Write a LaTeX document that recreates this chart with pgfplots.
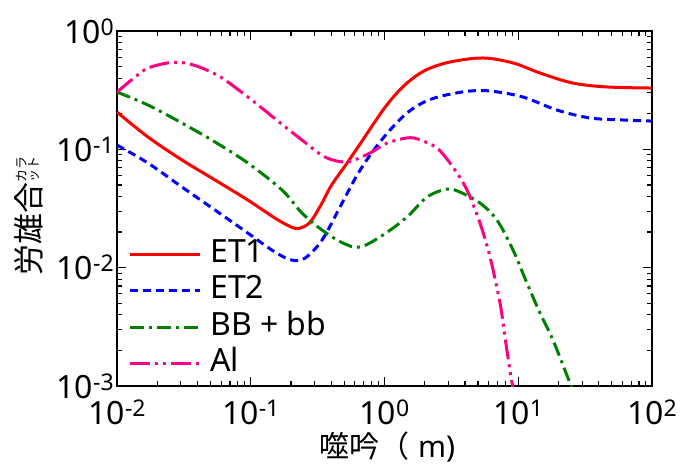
\documentclass[border=0pt]{standalone}
\usepackage{pgfplots}
\pgfplotsset{compat=1.18}
\usepackage{pgfplotstable}
\usepackage{fontspec}
\setmainfont{Noto Sans}
\newfontfamily\cjk{Noto Sans CJK JP}
\definecolor{cET}{RGB}{255,0,0}
\definecolor{cETt}{RGB}{0,0,255}
\definecolor{cBB}{RGB}{0,128,0}
\definecolor{cAl}{RGB}{255,0,128}
\newcommand{\tl}[1]{10\raisebox{8bp}{\fontsize{23bp}{23bp}\selectfont #1}}

% columns: log10(x)  log10(y)
\pgfplotstableread{
lx ly
-2.000 -0.685
-1.768 -0.896
-1.514 -1.090
-1.267 -1.259
-1.021 -1.429
-0.819 -1.581
-0.700 -1.655
-0.640 -1.668
-0.560 -1.620
-0.480 -1.480
-0.400 -1.310
-0.295 -1.140
-0.183 -0.955
-0.011 -0.668
0.100 -0.515
0.200 -0.410
0.318 -0.325
0.490 -0.262
0.736 -0.228
0.961 -0.270
1.163 -0.355
1.409 -0.440
1.664 -0.473
2.000 -0.482
}\etone
\pgfplotstableread{
lx ly
-2.000 -0.964
-1.768 -1.116
-1.514 -1.319
-1.267 -1.513
-1.021 -1.708
-0.819 -1.868
-0.692 -1.936
-0.594 -1.919
-0.467 -1.767
-0.333 -1.488
-0.206 -1.220
-0.086 -1.015
0.041 -0.837
0.168 -0.693
0.288 -0.605
0.415 -0.553
0.617 -0.510
0.789 -0.507
1.036 -0.558
1.290 -0.668
1.537 -0.735
1.783 -0.752
2.000 -0.761
}\ettwo
\pgfplotstableread{
lx ly
-2.000 -0.516
-1.768 -0.626
-1.514 -0.778
-1.267 -0.938
-1.021 -1.116
-0.766 -1.344
-0.617 -1.538
-0.467 -1.682
-0.310 -1.792
-0.183 -1.826
-0.011 -1.724
0.168 -1.572
0.318 -1.403
0.467 -1.336
0.564 -1.361
0.714 -1.454
0.841 -1.598
0.961 -1.851
1.065 -2.130
1.163 -2.384
1.260 -2.612
1.387 -2.976
1.420 -3.060
}\bbdata
\pgfplotstableread{
lx ly
-2.000 -0.516
-1.865 -0.389
-1.768 -0.313
-1.619 -0.270
-1.492 -0.270
-1.364 -0.313
-1.215 -0.397
-1.021 -0.558
-0.796 -0.761
-0.617 -0.921
-0.445 -1.065
-0.280 -1.107
-0.108 -1.031
0.019 -0.947
0.168 -0.904
0.250 -0.913
0.393 -0.989
0.512 -1.150
0.617 -1.344
0.714 -1.623
0.789 -1.910
0.864 -2.299
0.901 -2.587
0.938 -2.866
0.970 -3.080
}\aldata

\begin{document}
\begin{tikzpicture}
\begin{axis}[
  xmode=log, ymode=log,
  scale only axis, width=535bp, height=355bp,
  xmin=1e-2, xmax=1e2, ymin=1e-3, ymax=1,
  xtick={1e-2,1e-1,1,1e1,1e2},
  xticklabels={\tl{-2},\tl{-1},\tl{0},\tl{1},\tl{2}},
  ytick={1e-3,1e-2,1e-1,1},
  yticklabels={\tl{-3},\tl{-2},\tl{-1},\tl{0}},
  tick align=inside,
  major tick length=9bp, minor tick length=5bp,
  axis line style={line width=1.6bp},
  every tick/.style={black, line width=1.1bp},
  tick label style={font=\fontsize{32bp}{36bp}\selectfont, inner sep=1bp},
  xticklabel style={yshift=-13bp},
  yticklabel style={xshift=-2bp},
  xlabel={{\cjk 噬吟（}\hspace{0.3em}m)},
  xlabel style={at={(axis description cs:0.505,-0.172)}, anchor=center, font=\fontsize{30bp}{33bp}\selectfont},
  ylabel={\cjk 労雄合\raisebox{8bp}{\fontsize{13bp}{13bp}\selectfont\begin{tabular}{@{}l@{}}カラ\\[-2bp]ット\end{tabular}}},
  ylabel style={at={(axis description cs:-0.165,0.48)}, anchor=center, font=\fontsize{31bp}{34bp}\selectfont},
  legend style={at={(axis description cs:0.015,0.012)}, anchor=south west, draw=none, fill=none,
    font=\fontsize{32bp}{36bp}\selectfont,
    nodes={inner sep=0pt, text height=24bp, text depth=8bp},
    row sep=4.5bp, column sep=9bp},
  legend cell align=left,
  legend image code/.code={\draw[#1] (0bp,0bp) -- (70bp,0bp);},
]
\addplot[cET, line width=3bp, smooth, tension=0.55] table[x expr={10^(\thisrow{lx})}, y expr={10^(\thisrow{ly})}] {\etone};
\addlegendentry{ET1}
\addplot[cETt, line width=3bp, dash pattern=on 8bp off 5bp, smooth, tension=0.55] table[x expr={10^(\thisrow{lx})}, y expr={10^(\thisrow{ly})}] {\ettwo};
\addlegendentry{ET2}
\addplot[cBB, line width=3bp, dash pattern=on 14bp off 5bp on 3bp off 5bp, smooth, tension=0.55] table[x expr={10^(\thisrow{lx})}, y expr={10^(\thisrow{ly})}] {\bbdata};
\addlegendentry{BB + bb}
\addplot[cAl, line width=3bp, dash pattern=on 20bp off 5bp on 3bp off 5bp on 3bp off 5bp, smooth, tension=0.5] table[x expr={10^(\thisrow{lx})}, y expr={10^(\thisrow{ly})}] {\aldata};
\addlegendentry{Al}
\coordinate (sw) at (rel axis cs:0,0);
\coordinate (ne) at (rel axis cs:1,1);
\end{axis}
\pgfresetboundingbox
\path ([shift={(-117bp,-80bp)}]sw) rectangle ([shift={(35bp,31bp)}]ne);
\end{tikzpicture}
\end{document}
